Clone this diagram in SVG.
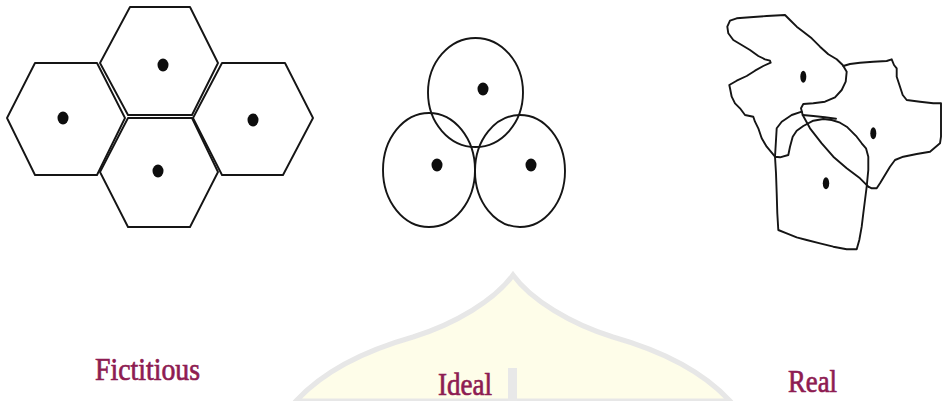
<svg xmlns="http://www.w3.org/2000/svg" width="942" height="401" viewBox="0 0 942 401">
<style>
.ln{fill:none;stroke:#151515;stroke-width:1.9;stroke-linejoin:round;stroke-linecap:round}
.dot{fill:#0d0d0d}
.lbl{font-family:"Liberation Serif","Times New Roman",serif;font-size:27px;fill:#8e1c52;stroke:#8e1c52;stroke-width:0.6}
</style>
<rect width="942" height="401" fill="#ffffff"/>
<g id="watermark">
<path d="M296,401 C320,375 360,352 413,337 C455,324 495,300 513,275 C531,300 571,324 613,337 C666,352 706,375 730,401 Z" fill="#fefde9" stroke="#e7e7e7" stroke-width="5"/>
<rect x="508" y="368" width="9" height="33" fill="#e8e8e8"/>
</g>
<g id="fictitious">
<g id="hex-top"><polygon class="ln" points="130,7 190,7 218,63 192,115 128,115 100,63"/><ellipse class="dot" cx="163" cy="65" rx="5.5" ry="6.5"/></g>
<g id="hex-left"><polygon class="ln" points="35,63 97,63 125,118 97,175 35,175 7,118"/><ellipse class="dot" cx="63" cy="118" rx="5.5" ry="6.5"/></g>
<g id="hex-right"><polygon class="ln" points="222,63 285,63 313,118 283,175 222,175 193,118"/><ellipse class="dot" cx="253" cy="120" rx="5.5" ry="6.5"/></g>
<g id="hex-bottom"><polygon class="ln" points="128,118 192,118 218,172 190,227 128,227 100,172"/><ellipse class="dot" cx="158" cy="171" rx="5.5" ry="6.5"/></g>
</g>
<g id="ideal">
<g id="circle-top"><ellipse class="ln" cx="475.5" cy="92.5" rx="47.5" ry="54.5"/><ellipse class="dot" cx="483" cy="89" rx="5.5" ry="6.5"/></g>
<g id="circle-left"><ellipse class="ln" cx="429" cy="170" rx="46" ry="57"/><ellipse class="dot" cx="437" cy="165" rx="5.5" ry="6.5"/></g>
<g id="circle-right"><ellipse class="ln" cx="520" cy="171" rx="45" ry="56"/><ellipse class="dot" cx="531" cy="165" rx="5.5" ry="6.5"/></g>
</g>
<g id="real">
<g id="real-a">
<path class="ln" d="M775,156.7 L766.7,146.7 L761.7,138.3 L758.3,128.3 L755,121.7 L753.3,116.7 L745,115 L740,108.3 L735,103.3 L731.7,96.7 L730,88.3 L729.3,85 L736.7,80.7 L746.7,76 L755,70.7 L763.3,66 L770.7,62.7 L770,60.7 L765,59.3 L758.3,56 L750,50 L741.7,45 L733.3,40 L728.3,33.3 L727.3,26.7 L730,20.7 L736.7,18.3 L750,17.3 L766.7,16 L785,15 L790,20 L796.7,26.7 L803.3,31.7 L811.7,38.3 L820,46.7 L828.3,54.3 L836.7,59.3 L842.7,65 L846.7,71.7 L845.7,81.7 L841.7,90 L835,97.3 L825,101.7 L813.3,103.3 L803.3,104 L801,108.3 L802.7,115 L810,128.3 L821.7,143.3 L833.3,156.7 L846.7,168.3 L860,178.3 L868.3,186.7"/>
<path class="ln" d="M802.7,115 L813.3,116 L825,117.3 L836,118.7"/>
<ellipse class="dot" cx="803.3" cy="76.7" rx="3" ry="6"/>
</g>
<g id="real-b">
<path class="ln" d="M843.3,66 L850,64 L860,62.7 L873.3,61.7 L886.7,61 L891.7,59.3 L894,65 L896.7,68.3 L896.7,76.7 L900,86.7 L902.7,95 L906.7,100 L920,101.7 L933.3,103.3 L941,103.3 L941,113.3 L941,126.7 L941,136.7 L940,143.3 L930,151.7 L916.7,154 L903.3,156.7 L895,160 L890,166.7 L885,175 L880,183.3 L876.7,188.3 L871.7,188.3 L868.3,186.7"/>
<ellipse class="dot" cx="873.3" cy="133.3" rx="3" ry="6"/>
</g>
<g id="real-c">
<path class="ln" d="M801.7,111.7 L791.7,115 L781.7,121.7 L776.7,128.3 L776,140 L775,156.7 L776,173.3 L776.7,193.3 L777.3,213.3 L778.3,230 L786.7,233.3 L796.7,237.3 L806.7,240 L820,243.3 L833.3,246.7 L846.7,249.3 L856.7,249.3 L859.3,240 L861.7,226.7 L863.3,213.3 L865,200 L866.7,186.7 L868.3,170 L868.3,156.7 L866,148.3 L861.7,143.3 L856.7,136.7 L851.7,131.7 L846.7,126.7 L840,122.7 L831.7,120 L823.3,119 L813.3,120.7 L803.3,126 L796.7,130.7 L792.7,136.7 L790,146.7 L788.3,155 L780,157.3 L775,156.7"/>
<ellipse class="dot" cx="826" cy="183.3" rx="3.2" ry="6"/>
</g>
</g>
<g id="labels">
<text class="lbl" transform="translate(95,380) scale(1,1.2)" textLength="105" lengthAdjust="spacingAndGlyphs">Fictitious</text>
<text class="lbl" transform="translate(438,395) scale(1,1.2)" textLength="54" lengthAdjust="spacingAndGlyphs">Ideal</text>
<text class="lbl" transform="translate(788,392) scale(1,1.2)" textLength="49" lengthAdjust="spacingAndGlyphs">Real</text>
</g>
</svg>
